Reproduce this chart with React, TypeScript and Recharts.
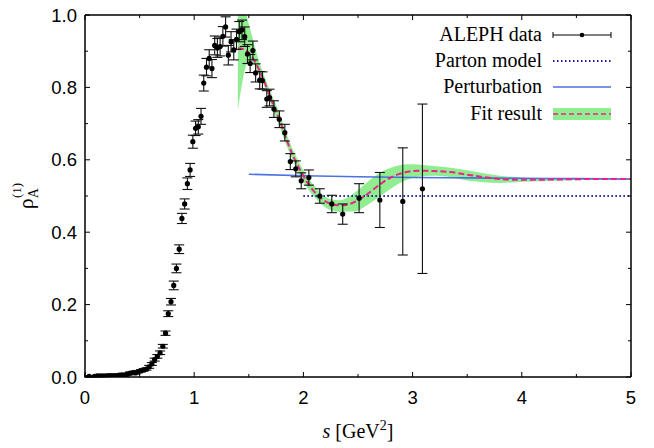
import { ComposedChart, Area, Line, Scatter, ErrorBar, XAxis, YAxis } from 'recharts'

// ALEPH axial-vector spectral function
const alephS = [
  0.0375, 0.0875, 0.1125, 0.1375, 0.1625, 0.1875, 0.2125, 0.2375, 0.2625, 0.2875,
  0.3125, 0.3375, 0.3625, 0.3875, 0.4125, 0.4375, 0.4625, 0.4875, 0.5125, 0.5375,
  0.5625, 0.5875, 0.6125, 0.6375, 0.6625, 0.6875, 0.7125, 0.7375, 0.7625, 0.7875,
  0.8125, 0.8375, 0.8625, 0.8875, 0.9125, 0.9375, 0.9625, 0.9875, 1.0125, 1.0375,
  1.0625, 1.0875, 1.1125, 1.1375, 1.1625, 1.1875, 1.2125, 1.2375, 1.2625, 1.2875,
  1.3125, 1.3375, 1.3625, 1.3875, 1.4125, 1.4375, 1.4625, 1.4875, 1.5125, 1.5375,
  1.5625, 1.6, 1.625, 1.665, 1.69, 1.73, 1.78, 1.83, 1.88, 1.93,
  1.98, 2.05, 2.15, 2.26, 2.36, 2.51, 2.7, 2.91, 3.09,
]
const alephRho = [
  0.002, 0.002, 0.003, 0.003, 0.003, 0.003, 0.004, 0.004, 0.004, 0.004,
  0.005, 0.006, 0.006, 0.007, 0.011, 0.012, 0.011, 0.015, 0.017, 0.02,
  0.022, 0.028, 0.036, 0.048, 0.057, 0.067, 0.085, 0.121, 0.175, 0.208,
  0.253, 0.3, 0.353, 0.438, 0.478, 0.534, 0.572, 0.65, 0.687, 0.691,
  0.72, 0.812, 0.856, 0.88, 0.852, 0.916, 0.909, 0.913, 0.941, 0.967,
  0.889, 0.926, 0.904, 0.933, 0.954, 0.959, 0.94, 0.892, 0.866, 0.902,
  0.84, 0.82, 0.819, 0.768, 0.772, 0.74, 0.712, 0.675, 0.595, 0.575,
  0.542, 0.551, 0.5, 0.478, 0.45, 0.494, 0.489, 0.485, 0.52,
]
const alephErr = [
  0.002, 0.002, 0.002, 0.002, 0.002, 0.002, 0.002, 0.002, 0.002, 0.002,
  0.002, 0.002, 0.002, 0.002, 0.003, 0.003, 0.003, 0.003, 0.003, 0.003,
  0.003, 0.004, 0.004, 0.004, 0.005, 0.005, 0.005, 0.006, 0.008, 0.009,
  0.012, 0.012, 0.012, 0.014, 0.014, 0.016, 0.018, 0.018, 0.02, 0.02,
  0.022, 0.022, 0.024, 0.024, 0.025, 0.026, 0.026, 0.026, 0.027, 0.028,
  0.027, 0.028, 0.028, 0.028, 0.028, 0.027, 0.027, 0.026, 0.025, 0.026,
  0.025, 0.024, 0.024, 0.023, 0.023, 0.023, 0.023, 0.023, 0.022, 0.022,
  0.022, 0.021, 0.02, 0.024, 0.028, 0.04, 0.076, 0.148, 0.234,
]

// fit result with its error band
const bandS = [
  1.4, 1.435, 1.465, 1.5, 1.54, 1.6, 1.66, 1.72, 1.79, 1.85, 1.91, 1.97,
  2.03, 2.1, 2.17, 2.25, 2.33, 2.4, 2.48, 2.56, 2.64, 2.72, 2.8, 2.88,
  2.96, 3.05, 3.19, 3.35, 3.5, 3.65, 3.8, 3.95, 4.1, 4.4, 4.7, 5.0,
]
const bandLow = [
  0.737, 0.805, 0.85, 0.872, 0.866, 0.83, 0.79, 0.741, 0.685, 0.636, 0.594, 0.556,
  0.525, 0.497, 0.476, 0.461, 0.456, 0.457, 0.458, 0.47, 0.486, 0.503, 0.52, 0.535,
  0.546, 0.553, 0.556, 0.552, 0.543, 0.538, 0.536, 0.538, 0.54, 0.543, 0.545, 0.545,
]
const bandHigh = [
  1.14, 1.08, 1.02, 0.975, 0.93, 0.866, 0.818, 0.772, 0.722, 0.668, 0.624, 0.588,
  0.556, 0.528, 0.505, 0.492, 0.488, 0.495, 0.512, 0.532, 0.552, 0.567, 0.578, 0.585,
  0.588, 0.587, 0.583, 0.578, 0.571, 0.563, 0.556, 0.552, 0.55, 0.55, 0.549, 0.549,
]
const fitRho = [
  0.908, 0.907, 0.904, 0.895, 0.879, 0.846, 0.802, 0.755, 0.703, 0.652, 0.608, 0.572,
  0.54, 0.512, 0.492, 0.478, 0.474, 0.476, 0.485, 0.5, 0.518, 0.536, 0.551, 0.561,
  0.567, 0.57, 0.569, 0.566, 0.559, 0.552, 0.547, 0.545, 0.545, 0.546, 0.547, 0.547,
]

const pertS = [1.5, 2, 2.5, 3, 3.5, 4, 4.5, 5]
const pertRho = [0.56, 0.556, 0.553, 0.551, 0.55, 0.549, 0.548, 0.547]

const partonS = [2.0, 5.0]
const partonRho = [0.5, 0.5]

const xTicks = [0, 0.5, 1, 1.5, 2, 2.5, 3, 3.5, 4, 4.5, 5]
const yTicks = [0, 0.1, 0.2, 0.3, 0.4, 0.5, 0.6, 0.7, 0.8, 0.9, 1]

const legendLabels = ['ALEPH data', 'Parton model', 'Perturbation', 'Fit result']

const alephData = alephS.map((s, i) => ({ x: s, y: alephRho[i], err: alephErr[i] }))
const bandData = bandS.map((s, i) => ({ x: s, range: [bandLow[i], bandHigh[i]], y: fitRho[i] }))
const pertData = pertS.map((s, i) => ({ x: s, y: pertRho[i] }))
const partonData = partonS.map((s, i) => ({ x: s, y: partonRho[i] }))

const SANS = '"Liberation Sans", Arial, Helvetica, sans-serif'
const SERIF = '"Liberation Serif", "Times New Roman", serif'
const BAND = '#90ee90'
const FIT = '#f0208a'
const PERT = '#4a72e0'
const PARTON = '#1c1c9c'

function AxisTick(props: any) {
  const { x, y, payload, side } = props
  const v = payload.value
  const horiz = side === 'bottom' || side === 'top'
  const major = horiz ? Number.isInteger(v) : Math.round(v * 10) % 2 === 0
  const len = major ? 5 : 3
  if (side === 'bottom') {
    return (
      <g>
        <line x1={x} y1={y} x2={x} y2={y - len} stroke="#000" strokeWidth={1} />
        {major && (
          <text x={x} y={y + 27} textAnchor="middle" fontFamily={SANS} fontSize={18.5} fill="#000">
            {String(v)}
          </text>
        )}
      </g>
    )
  }
  if (side === 'top') return <line x1={x} y1={y} x2={x} y2={y + len} stroke="#000" strokeWidth={1} />
  if (side === 'left') {
    return (
      <g>
        <line x1={x} y1={y} x2={x + len} y2={y} stroke="#000" strokeWidth={1} />
        {major && (
          <text x={x - 8} y={y + 6.5} textAnchor="end" fontFamily={SANS} fontSize={18.5} fill="#000">
            {v.toFixed(1)}
          </text>
        )}
      </g>
    )
  }
  return <line x1={x} y1={y} x2={x - len} y2={y} stroke="#000" strokeWidth={1} />
}

function XLabel(props: any) {
  const { x, width, y } = props.viewBox
  return (
    <text x={x + width / 2} y={y + 61} textAnchor="middle" fontFamily={SERIF} fontSize={20} fill="#000">
      <tspan fontStyle="italic">s</tspan> [GeV
      <tspan fontSize={14} dy={-8}>2</tspan>
      <tspan dy={8}>]</tspan>
    </text>
  )
}

function YLabel(props: any) {
  const { y, height } = props.viewBox
  const cx = 33
  const cy = y + height / 2
  return (
    <text
      x={cx}
      y={cy}
      transform={`rotate(-90, ${cx}, ${cy})`}
      textAnchor="middle"
      fontFamily={SERIF}
      fontSize={22}
      fill="#000"
    >
      ρ<tspan fontSize={14} dy={5}>A</tspan>
      <tspan fontSize={13} dx={-10} dy={-17}>(1)</tspan>
    </text>
  )
}

function Dot(props: any) {
  return <circle cx={props.cx} cy={props.cy} r={2.6} fill="#000" />
}

function ChartLegend() {
  const rows = [35, 61, 87, 114]
  const x0 = 553
  const x1 = 611
  return (
    <svg width={654} height={448} style={{ position: 'absolute', left: 0, top: 0, pointerEvents: 'none' }}>
      {legendLabels.map((t, i) => (
        <text key={t} x={542} y={rows[i] + 6} textAnchor="end" fontFamily={SERIF} fontSize={20} fill="#000">
          {t}
        </text>
      ))}
      <line x1={x0} y1={rows[0]} x2={x1} y2={rows[0]} stroke="#000" strokeWidth={1} />
      <line x1={x0} y1={rows[0] - 3} x2={x0} y2={rows[0] + 3} stroke="#000" strokeWidth={1} />
      <line x1={x1} y1={rows[0] - 3} x2={x1} y2={rows[0] + 3} stroke="#000" strokeWidth={1} />
      <circle cx={(x0 + x1) / 2} cy={rows[0]} r={2.3} fill="#000" />
      <line x1={x0} y1={rows[1]} x2={x1} y2={rows[1]} stroke={PARTON} strokeWidth={2} strokeDasharray="1.5 2.5" />
      <line x1={x0} y1={rows[2]} x2={x1} y2={rows[2]} stroke={PERT} strokeWidth={1.6} />
      <rect x={x0} y={rows[3] - 6} width={x1 - x0} height={12} fill={BAND} />
      <line x1={x0} y1={rows[3]} x2={x1} y2={rows[3]} stroke={FIT} strokeWidth={1.6} strokeDasharray="5 3" />
    </svg>
  )
}

export default function App() {
  return (
    <div style={{ position: 'absolute', left: 0, top: 0, width: 654, height: 448, background: '#fff' }}>
      <ComposedChart width={654} height={448} margin={{ top: 14, right: 22, bottom: 0, left: 0 }}>
        <XAxis
          dataKey="x"
          type="number"
          domain={[0, 5]}
          ticks={xTicks}
          interval={0}
          allowDataOverflow
          height={71}
          tickSize={0}
          tickMargin={0}
          tickLine={false}
          axisLine={{ stroke: '#000', strokeWidth: 1.5 }}
          tick={<AxisTick side="bottom" />}
          label={<XLabel />}
        />
        <XAxis
          xAxisId="top"
          orientation="top"
          dataKey="x"
          type="number"
          domain={[0, 5]}
          ticks={xTicks}
          interval={0}
          allowDataOverflow
          height={1}
          tickSize={0}
          tickMargin={0}
          tickLine={false}
          axisLine={{ stroke: '#000', strokeWidth: 1.5 }}
          tick={<AxisTick side="top" />}
        />
        <YAxis
          type="number"
          domain={[0, 1]}
          ticks={yTicks}
          interval={0}
          allowDataOverflow
          width={85}
          tickSize={0}
          tickMargin={0}
          tickLine={false}
          axisLine={{ stroke: '#000', strokeWidth: 1.5 }}
          tick={<AxisTick side="left" />}
          label={<YLabel />}
        />
        <YAxis
          yAxisId="right"
          orientation="right"
          type="number"
          domain={[0, 1]}
          ticks={yTicks}
          interval={0}
          allowDataOverflow
          width={1}
          tickSize={0}
          tickMargin={0}
          tickLine={false}
          axisLine={{ stroke: '#000', strokeWidth: 1.5 }}
          tick={<AxisTick side="right" />}
        />
        <Area
          data={bandData}
          dataKey="range"
          type="monotone"
          fill={BAND}
          fillOpacity={1}
          stroke="none"
          isAnimationActive={false}
        />
        <Line
          data={pertData}
          dataKey="y"
          type="monotone"
          stroke={PERT}
          strokeWidth={1.6}
          dot={false}
          isAnimationActive={false}
        />
        <Line
          data={partonData}
          dataKey="y"
          type="linear"
          stroke={PARTON}
          strokeWidth={2}
          strokeDasharray="1.5 2.5"
          dot={false}
          isAnimationActive={false}
        />
        <Line
          data={bandData}
          dataKey="y"
          type="monotone"
          stroke={FIT}
          strokeWidth={2}
          strokeDasharray="6 3"
          dot={false}
          isAnimationActive={false}
        />
        <Scatter data={alephData} dataKey="y" shape={<Dot />} isAnimationActive={false}>
          <ErrorBar dataKey="err" direction="y" width={5} stroke="#111" strokeWidth={1.1} isAnimationActive={false} />
        </Scatter>
      </ComposedChart>
      <ChartLegend />
    </div>
  )
}
